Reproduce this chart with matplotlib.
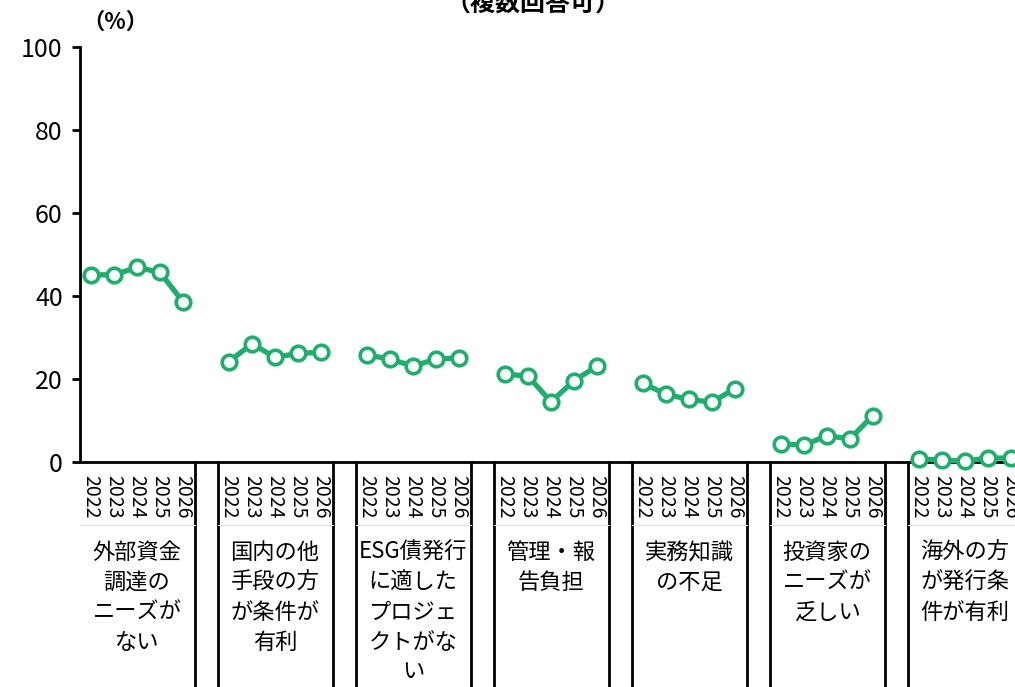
import numpy as np
import matplotlib
matplotlib.use("Agg")
import matplotlib.pyplot as plt

plt.rcParams['font.family'] = ['Noto Sans CJK JP', 'DejaVu Sans']

years = ["2022", "2023", "2024", "2025", "2026"]
categories = [
    "外部資金\n調達の\nニーズが\nない",
    "国内の他\n手段の方\nが条件が\n有利",
    "ESG債発行\nに適した\nプロジェ\nクトがな\nい",
    "管理・報\n告負担",
    "実務知識\nの不足",
    "投資家の\nニーズが\n乏しい",
    "海外の方\nが発行条\n件が有利",
]
values = [
    [45.1, 45.1, 46.9, 45.7, 38.6],
    [24.2, 28.5, 25.2, 26.2, 26.4],
    [25.8, 24.8, 23.1, 24.8, 25.1],
    [21.2, 20.7, 14.5, 19.6, 23.1],
    [19.0, 16.3, 15.1, 14.4, 17.7],
    [4.3, 4.1, 6.3, 5.6, 11.2],
    [0.7, 0.5, 0.2, 1.0, 0.9],
]
green = "#1fae6e"

W, H = 1015, 687
fig = plt.figure(figsize=(W / 100, H / 100), dpi=100)
# axes: y=0 at pixel 462, y=100 at 47, first slot centre at x=91, slot width 23
left_px = 79.5
ax = fig.add_axes([left_px / W, 1 - 462 / H, 1 - left_px / W, 415 / H])
slot = 23.0
x_right = (W - 91) / slot
ax.set_xlim(-0.5, x_right)
ax.set_ylim(0, 100)

n = len(years)
for g, vals in enumerate(values):
    xs = np.arange(n) + g * (n + 1)
    ax.plot(xs, vals, color=green, lw=3.8, marker="o", ms=10.5,
            mfc="white", mec=green, mew=2.6, clip_on=False, zorder=3)

for s in ["top", "right"]:
    ax.spines[s].set_visible(False)
ax.spines["left"].set_linewidth(2)
ax.spines["bottom"].set_linewidth(2)
ax.set_yticks(np.arange(0, 101, 20))
ax.tick_params(axis="y", length=6, width=2, labelsize=18, pad=6)
ax.set_xticks([])
ax.text(82 / W, 1 - 22 / H, "（%）", transform=fig.transFigure,
        fontsize=16, fontweight="bold", va="center", ha="left")

# category table below the axis
trans = ax.get_xaxis_transform()
y_bottom = -(H - 462) / 415
y_sep = -(525 - 462) / 415
y_year = -(475 - 462) / 415
for g, cat in enumerate(categories):
    x0 = g * (n + 1) - 0.5
    x1 = x0 + n
    for xx in (x0, x1):
        if xx > -0.5:
            ax.plot([xx, xx], [0, y_bottom], transform=trans, color="black",
                    lw=2, clip_on=False)
    ax.plot([x0, x1], [y_sep, y_sep], transform=trans, color="#e0e0e0",
            lw=0.8, clip_on=False)
    for i, yr in enumerate(years):
        ax.text(g * (n + 1) + i, y_year, yr, transform=trans, rotation=270,
                ha="center", va="top", fontsize=14, clip_on=False)
    ax.text(g * (n + 1) + 2, -(541 - 462) / 415, cat, transform=trans,
            ha="center", va="top", fontsize=16, linespacing=1.38,
            clip_on=False)

fig.text(533 / W, 1 - 12 / H, "（複数回答可）", fontsize=18,
         fontweight="bold", ha="center", va="baseline")

fig.savefig("out.png", dpi=100)
